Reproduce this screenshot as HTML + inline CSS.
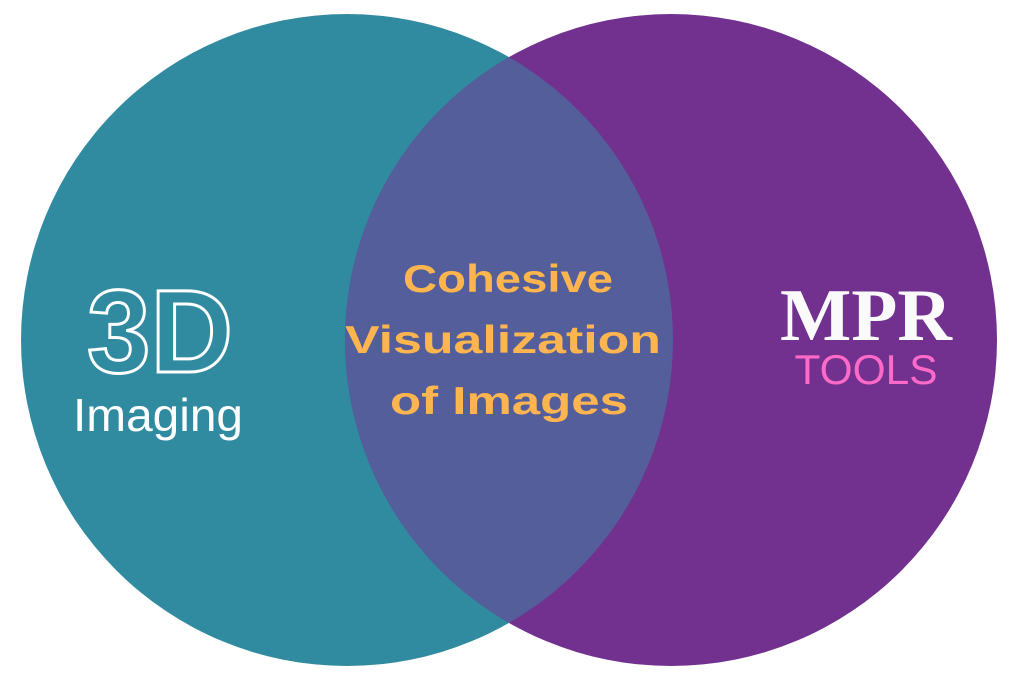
<!DOCTYPE html>
<html><head><style>html,body{margin:0;padding:0;background:#fff}</style></head>
<body>
<svg width="1024" height="683" viewBox="0 0 1024 683" xmlns="http://www.w3.org/2000/svg">
<defs>
<clipPath id="lc"><circle cx="347" cy="340" r="326"/></clipPath>
</defs>
<rect width="1024" height="683" fill="#fff"/>
<circle cx="347" cy="340" r="326" fill="#318BA0"/>
<circle cx="671" cy="340" r="326" fill="#72308F"/>
<circle cx="671" cy="340" r="326" fill="#535E9A" clip-path="url(#lc)"/>
<g font-family="Liberation Sans, sans-serif" font-weight="bold" fill="#FFB54F" font-size="39" text-anchor="middle">
<text x="508" y="292" textLength="210" lengthAdjust="spacingAndGlyphs">Cohesive</text>
<text x="503" y="353" textLength="316" lengthAdjust="spacingAndGlyphs">Visualization</text>
<text x="509" y="414" textLength="238" lengthAdjust="spacingAndGlyphs">of Images</text>
</g>
<text x="160" y="372" font-family="Liberation Sans, sans-serif" font-weight="bold" font-size="118" fill="none" stroke="#fff" stroke-width="3" text-anchor="middle" textLength="146" lengthAdjust="spacingAndGlyphs">3D</text>
<text x="158" y="431" font-family="Liberation Sans, sans-serif" font-size="46" fill="#fff" text-anchor="middle" textLength="170" lengthAdjust="spacingAndGlyphs">Imaging</text>
<text x="866" y="340" font-family="Liberation Serif, serif" font-weight="bold" font-size="74" fill="#fafafa" text-anchor="middle" textLength="172" lengthAdjust="spacingAndGlyphs">MPR</text>
<text x="866" y="384" font-family="Liberation Sans, sans-serif" font-size="42" fill="#FF69C8" text-anchor="middle" textLength="143" lengthAdjust="spacingAndGlyphs">TOOLS</text>
</svg>
</body></html>
